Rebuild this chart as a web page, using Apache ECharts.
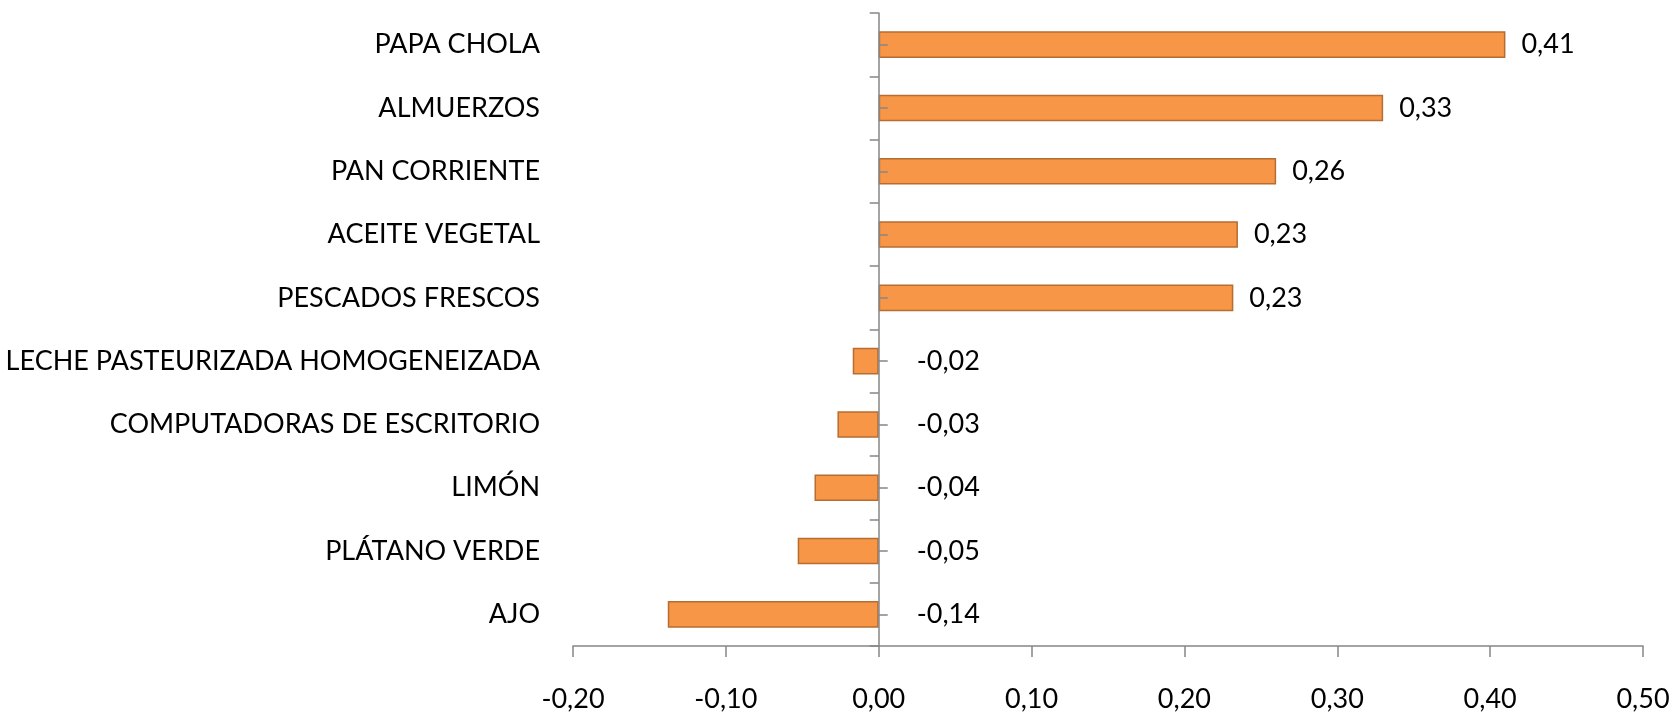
<!DOCTYPE html>
<html><head><meta charset="utf-8">
<script src="https://cdn.jsdelivr.net/npm/echarts@6/dist/echarts.min.js"></script>
<style>html,body{margin:0;padding:0;background:#fff}#c{width:1675px;height:713px}</style>
</head><body><div id="c"></div>
<script>
const categories = ["PAPA CHOLA","ALMUERZOS","PAN CORRIENTE","ACEITE VEGETAL","PESCADOS FRESCOS","LECHE PASTEURIZADA HOMOGENEIZADA","COMPUTADORAS DE ESCRITORIO","LIMÓN","PLÁTANO VERDE","AJO"];
const values = [0.41,0.33,0.26,0.235,0.232,-0.017,-0.027,-0.042,-0.053,-0.138];
const labels = ["0,41","0,33","0,26","0,23","0,23","-0,02","-0,03","-0,04","-0,05","-0,14"];
const FONT = 'Lato';
const fmt = v => v.toFixed(2).replace('.', ',');
const GL = 573, GR = 32, XMIN = -0.2, XMAX = 0.5;
const zeroOffset = (1675 - GL - GR) * (0 - XMIN) / (XMAX - XMIN);
const chart = echarts.init(document.getElementById('c'));
chart.setOption({
  animation:false,
  textStyle:{fontFamily:FONT},
  grid:{left:GL,right:GR,top:13,bottom:67,containLabel:false},
  xAxis:{type:'value',min:XMIN,max:XMAX,interval:0.1,
    axisLine:{show:true,onZero:false,lineStyle:{color:'#868686',width:1.5}},
    axisTick:{show:true,length:11,lineStyle:{color:'#868686',width:1.5}},
    splitLine:{show:false},
    axisLabel:{formatter:fmt,color:'#000',fontSize:27,fontFamily:FONT,margin:40}},
  yAxis:[
    {type:'category',data:categories,inverse:true,position:'left',
     axisLine:{show:false,onZero:false},axisTick:{show:false},
     axisLabel:{color:'#000',fontSize:27,fontFamily:FONT,margin:33}},
    {type:'category',data:categories,inverse:true,z:5,
     axisLine:{show:true,onZero:true,lineStyle:{color:'#868686',width:1.5}},
     axisTick:{show:true,inside:true,length:9,lineStyle:{color:'#868686',width:1.5}},
     axisLabel:{show:false}},
    {type:'category',data:categories,inverse:true,position:'left',offset:-zeroOffset,z:5,
     axisLine:{show:false,onZero:false},
     axisTick:{show:true,inside:true,alignWithLabel:true,length:9,lineStyle:{color:'#868686',width:1.5}},
     axisLabel:{show:false}}
  ],
  series:[{type:'bar',yAxisIndex:0,barCategoryGap:'58%',
    data:values.map((v,i)=>({value:v,label:v<0?{position:'right',distance:38}:{position:'right',distance:16}})),
    itemStyle:{color:'#F79646',borderColor:'#B66D31',borderWidth:1.5},
    label:{show:true,color:'#000',fontSize:27,fontFamily:FONT,formatter:p=>labels[p.dataIndex]}
  }]
});
</script></body></html>
